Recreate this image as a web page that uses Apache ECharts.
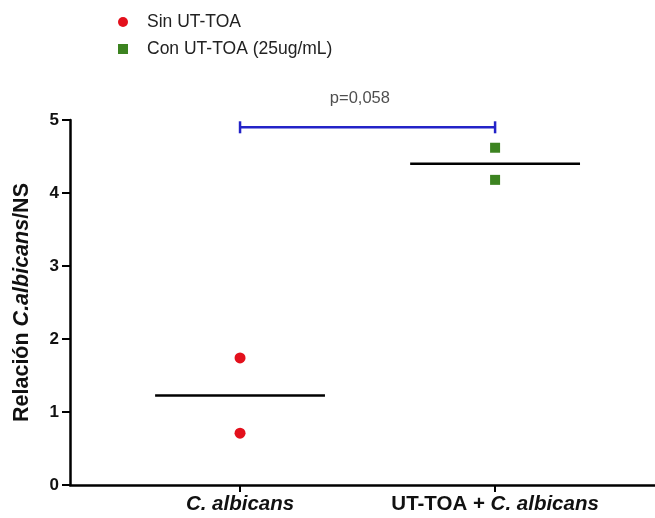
<!DOCTYPE html>
<html><head><meta charset="utf-8">
<script src="https://cdn.jsdelivr.net/npm/echarts@6/dist/echarts.min.js"></script>
<style>html,body{margin:0;padding:0;background:#fff}#c{width:655px;height:518px}</style>
</head><body><div id="c"></div>
<script>
var categories = ['C. albicans', 'UT-TOA + C. albicans'];
var seriesNames = ['Sin UT-TOA', 'Con UT-TOA (25ug/mL)'];
var sinValues = [1.74, 0.71];
var conValues = [4.62, 4.18];
var yTicks = [0, 1, 2, 3, 4, 5];
var pLabel = 'p=0,058';
var bracketY = 4.9;

function mean(a){ var s=0; a.forEach(function(v){s+=v;}); return s/a.length; }
var groups = [sinValues, conValues];
var half = 0.333;

var chart = echarts.init(document.getElementById('c'));
var FONT = 'Liberation Sans, Arial, sans-serif';
var option = {
  animation: false,
  grid: {left: 70, right: 0, top: 120, bottom: 33, containLabel: false},
  legend: {
    data: [{name: seriesNames[0], icon: 'circle'}, {name: seriesNames[1], icon: 'rect'}],
    orient: 'vertical', left: 113, top: 8, itemWidth: 10, itemHeight: 10, itemGap: 9,
    textStyle: {fontFamily: FONT, fontSize: 17.5, color: '#222', padding: [0, 0, 0, 14]}
  },
  xAxis: {
    type: 'value', min: -0.6667, max: 1.627,
    splitLine: {show: false},
    axisLine: {lineStyle: {color: '#000', width: 2.5}},
    axisTick: {show: true, customValues: [0, 1], length: 7, lineStyle: {color: '#000', width: 2}},
    axisLabel: {
      customValues: [0, 1], margin: 9,
      formatter: function(v){
        var i = Math.round(v);
        var n = categories[i];
        if (n.indexOf(' + ') >= 0) {
          var parts = n.split(' + ');
          return '{b|' + parts[0] + ' + }{bi|' + parts[1] + '}';
        }
        return '{bi|' + n + '}';
      },
      rich: {
        b: {fontFamily: FONT, fontSize: 20.5, fontWeight: 'bold', color: '#111'},
        bi: {fontFamily: FONT, fontSize: 20.5, fontWeight: 'bold', fontStyle: 'italic', color: '#111'}
      }
    }
  },
  yAxis: {
    type: 'value', min: 0, max: 5, interval: 1,
    splitLine: {show: false},
    axisLine: {show: true, onZero: false, lineStyle: {color: '#000', width: 2.5}},
    axisTick: {show: true, length: 8, lineStyle: {color: '#000', width: 2}},
    axisLabel: {fontFamily: FONT, fontSize: 17, fontWeight: 'bold', color: '#111', margin: 11,
      formatter: function(v){ return yTicks.indexOf(v) >= 0 ? String(v) : ''; }},
    name: '{b|Relación }{bi|C.albicans}{b|/NS}',
    nameLocation: 'middle', nameGap: 37, nameRotate: 90,
    nameTextStyle: {
      rich: {
        b: {fontFamily: FONT, fontSize: 21.5, fontWeight: 'bold', color: '#111'},
        bi: {fontFamily: FONT, fontSize: 21.5, fontWeight: 'bold', fontStyle: 'italic', color: '#111'}
      }
    }
  },
  series: [
    {
      name: seriesNames[0], type: 'scatter', symbol: 'circle', symbolSize: 11,
      itemStyle: {color: '#e3101c', opacity: 1},
      data: sinValues.map(function(v){ return [0, v]; })
    },
    {
      name: seriesNames[1], type: 'scatter', symbol: 'rect', symbolSize: 10,
      itemStyle: {color: '#3c8320', opacity: 1},
      data: conValues.map(function(v){ return [1, v]; })
    },
    {
      name: 'mean0', type: 'line', symbol: 'none', lineStyle: {color: '#000', width: 2.5},
      data: [[0 - half, mean(groups[0])], [0 + half, mean(groups[0])]]
    },
    {
      name: 'mean1', type: 'line', symbol: 'none', lineStyle: {color: '#000', width: 2.5},
      data: [[1 - half, mean(groups[1])], [1 + half, mean(groups[1])]]
    },
    {
      name: 'bracket', type: 'line', symbol: 'rect', symbolSize: [2.5, 12],
      itemStyle: {color: '#2323c8'}, lineStyle: {color: '#2323c8', width: 2.5},
      data: [[0, bracketY], [1, bracketY]]
    },
    {
      name: 'pval', type: 'scatter', symbolSize: 0,
      data: [[0.47, bracketY]],
      label: {show: true, position: 'top', distance: 20, formatter: pLabel,
        fontFamily: FONT, fontSize: 16.5, color: '#222'}
    }
  ]
};
chart.setOption(option);
</script></body></html>
